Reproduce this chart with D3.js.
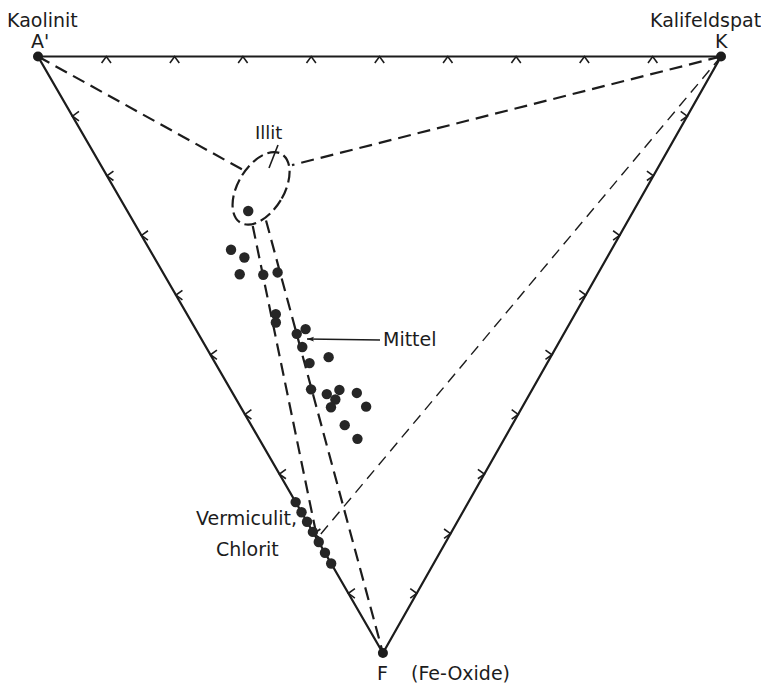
<!DOCTYPE html>
<html>
<head>
<meta charset="utf-8">
<script src="https://cdn.jsdelivr.net/npm/d3@7"></script>
<style>
  body { margin: 0; background: #fff; }
  text { font-family: "DejaVu Sans", sans-serif; fill: #1c1c1c; }
</style>
</head>
<body>
<div id="plot"></div>
<script>
// compositions in percent: [A', K, F]
const vertexNames = ["A'", "K", "F"];
const vertexMinerals = ["Kaolinit", "Kalifeldspat", "(Fe-Oxide)"];
const vertexComps = [[100, 0, 0], [0, 100, 0], [0, 0, 100]];
const tickValues = [10, 20, 30, 40, 50, 60, 70, 80, 90];

const illitSamples = [
  [56.4, 17.7, 25.9]
];
const mittelSamples = [
  [55.7, 11.9, 32.4], [53.1, 13.2, 33.7], [52.5, 11.1, 36.5], [48.9, 14.5, 36.6],
  [47.0, 16.8, 36.2], [43.8, 13.0, 43.2], [43.1, 12.3, 44.6], [39.1, 14.4, 46.5],
  [38.3, 16.1, 45.7], [37.2, 14.1, 48.7], [34.8, 13.8, 51.4], [32.6, 17.1, 50.4],
  [32.4, 11.8, 55.8], [29.7, 13.7, 56.6], [28.2, 15.9, 55.9], [28.0, 14.5, 57.5],
  [28.1, 13.2, 58.8], [25.4, 18.2, 56.4], [22.9, 18.4, 58.7], [24.5, 13.7, 61.8],
  [21.5, 14.4, 64.1]
];
const vermiculitSamples = [
  [25.3, 0, 74.7], [23.6, 0, 76.4], [22.0, 0, 78.0], [20.3, 0, 79.7],
  [18.6, 0, 81.4], [16.8, 0, 83.2], [15.0, 0, 85.0]
];

const illitCenter = [56.4, 21.5, 22.1];

// dashed tie lines: [from, to]
const tieLinesHeavy = [
  [[100, 0, 0], [60.6, 20.4, 19.0]],
  [[0, 100, 0], [53.8, 28.0, 18.2]],
  [[54.5, 17.1, 28.4], [20.0, 0.5, 79.5]],
  [[53.0, 19.5, 27.5], [0, 0, 100]]
];
const tieLinesThin = [
  [[0, 100, 0], [19.0, 0.8, 80.2]]
];

const width = 761, height = 683;
const skew = 0.505; // horizontal position of F along A'-K

const xScale = d3.scaleLinear().domain([0, 100]).range([38, 721]);
const yScale = d3.scaleLinear().domain([0, 100]).range([56.5, 653]);

function project(c) {
  return [xScale(c[1] + skew * c[2]), yScale(c[2])];
}

const svg = d3.select("#plot").append("svg")
  .attr("width", width)
  .attr("height", height);

const ink = "#1c1c1c";

// triangle frame
const corners = vertexComps.map(project);
svg.append("path")
  .attr("d", d3.line()(corners) + "Z")
  .attr("fill", "none")
  .attr("stroke", ink)
  .attr("stroke-width", 2.2);

// chevron ticks on each edge
function chevron(p, angle) {
  const len = 8, half = 36 * Math.PI / 180;
  const a1 = angle - half, a2 = angle + half;
  return "M" + (p[0] + len * Math.cos(a1)) + "," + (p[1] + len * Math.sin(a1)) +
    "L" + p[0] + "," + p[1] +
    "L" + (p[0] + len * Math.cos(a2)) + "," + (p[1] + len * Math.sin(a2));
}
const ticks = [];
tickValues.forEach(v => {
  ticks.push({ p: project([100 - v, v, 0]), ang: Math.PI / 2 });   // A'-K
  ticks.push({ p: project([100 - v, 0, v]), ang: 0 });             // A'-F
  ticks.push({ p: project([0, 100 - v, v]), ang: Math.PI });       // K-F
});
svg.append("g").selectAll("path")
  .data(ticks)
  .enter().append("path")
  .attr("d", d => chevron(d.p, d.ang))
  .attr("fill", "none")
  .attr("stroke", ink)
  .attr("stroke-width", 1.6);

// tie lines
svg.append("g").selectAll("line")
  .data(tieLinesHeavy)
  .enter().append("line")
  .attr("x1", d => project(d[0])[0])
  .attr("y1", d => project(d[0])[1])
  .attr("x2", d => project(d[1])[0])
  .attr("y2", d => project(d[1])[1])
  .attr("stroke", ink)
  .attr("stroke-width", 2.2)
  .attr("stroke-dasharray", "13,7");

svg.append("g").selectAll("line")
  .data(tieLinesThin)
  .enter().append("line")
  .attr("x1", d => project(d[0])[0])
  .attr("y1", d => project(d[0])[1])
  .attr("x2", d => project(d[1])[0])
  .attr("y2", d => project(d[1])[1])
  .attr("stroke", ink)
  .attr("stroke-width", 1.4)
  .attr("stroke-dasharray", "11,7");

// Illit field
const ic = project(illitCenter);
svg.append("ellipse")
  .attr("cx", 0).attr("cy", 0)
  .attr("rx", 23).attr("ry", 40)
  .attr("transform", "translate(" + ic[0] + "," + ic[1] + ") rotate(31)")
  .attr("fill", "none")
  .attr("stroke", ink)
  .attr("stroke-width", 2.2)
  .attr("stroke-dasharray", "12,5");

// sample points
const samples = illitSamples.concat(mittelSamples, vermiculitSamples);
svg.append("g").selectAll("circle")
  .data(samples)
  .enter().append("circle")
  .attr("cx", d => project(d)[0])
  .attr("cy", d => project(d)[1])
  .attr("r", 5.2)
  .attr("fill", "#262626");

// vertex dots
svg.append("g").selectAll("circle")
  .data(corners)
  .enter().append("circle")
  .attr("cx", d => d[0])
  .attr("cy", d => d[1])
  .attr("r", 5)
  .attr("fill", ink);

// vertex labels
const fs = "19px";
const labelPos = [
  { name: [31, 48], mineral: [7, 27] },
  { name: [715, 48], mineral: [650, 27] },
  { name: [377, 680], mineral: [411, 680] }
];
vertexNames.forEach((n, i) => {
  svg.append("text").attr("x", labelPos[i].name[0]).attr("y", labelPos[i].name[1])
    .style("font-size", fs).text(n);
  svg.append("text").attr("x", labelPos[i].mineral[0]).attr("y", labelPos[i].mineral[1])
    .style("font-size", fs).text(vertexMinerals[i]);
});

// Illit label with leader
svg.append("text").attr("x", 255).attr("y", 139).style("font-size", "18px").text("Illit");
svg.append("line")
  .attr("x1", 278).attr("y1", 145).attr("x2", 269).attr("y2", 168)
  .attr("stroke", ink).attr("stroke-width", 1.6);

// Mittel arrow
svg.append("defs").append("marker")
  .attr("id", "arrow")
  .attr("viewBox", "0 0 10 10")
  .attr("refX", 10).attr("refY", 5)
  .attr("markerWidth", 14).attr("markerHeight", 7)
  .attr("markerUnits", "userSpaceOnUse")
  .attr("orient", "auto")
  .append("path").attr("d", "M10,5L0,1.5L2,5L0,8.5Z").attr("fill", ink);
svg.append("line")
  .attr("x1", 380).attr("y1", 340).attr("x2", 307).attr("y2", 339)
  .attr("stroke", ink).attr("stroke-width", 1.6)
  .attr("marker-end", "url(#arrow)");
svg.append("text").attr("x", 383).attr("y", 346).style("font-size", fs).text("Mittel");

// Vermiculit label
svg.append("text").attr("x", 196).attr("y", 525).style("font-size", fs).text("Vermiculit,");
svg.append("text").attr("x", 216).attr("y", 556).style("font-size", fs).text("Chlorit");
</script>
</body>
</html>
